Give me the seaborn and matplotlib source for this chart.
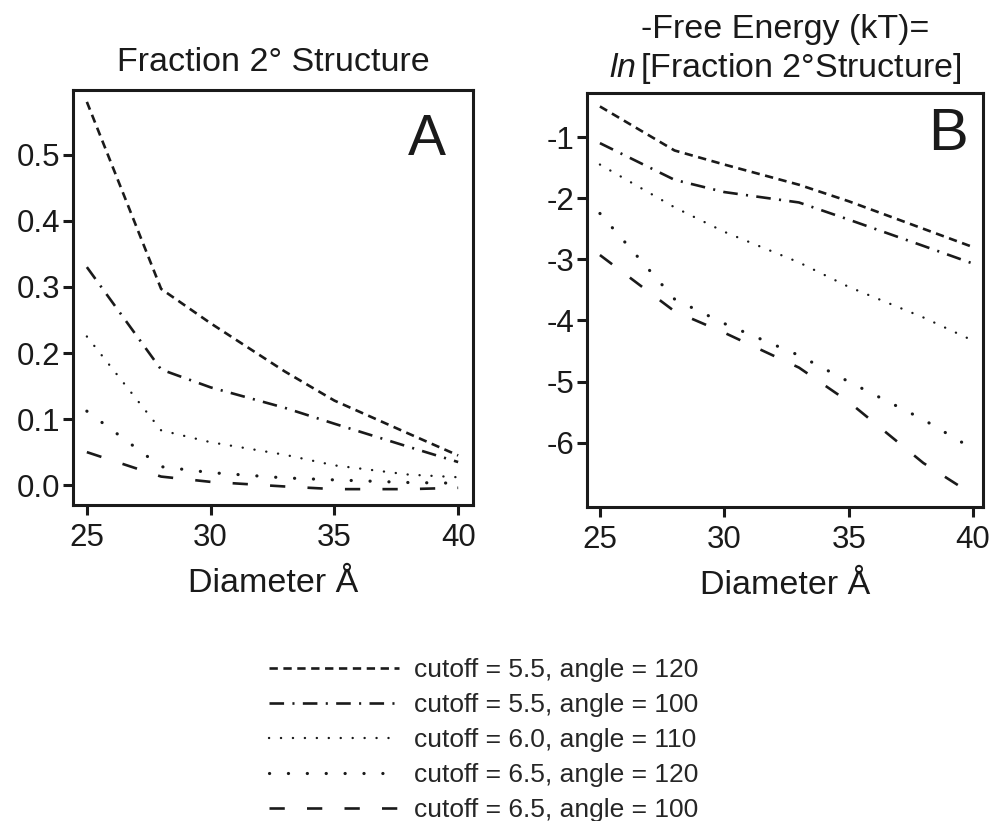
import matplotlib
matplotlib.use("Agg")
import matplotlib.pyplot as plt
import seaborn as sns
import pandas as pd

# ---- data ----
diameters = [25, 28, 30, 33, 35, 38, 40]
conditions = [
    "cutoff = 5.5, angle = 120",
    "cutoff = 5.5, angle = 100",
    "cutoff = 6.0, angle = 110",
    "cutoff = 6.5, angle = 120",
    "cutoff = 6.5, angle = 100",
]
frac_55_120 = [0.58, 0.297, 0.245, 0.172, 0.128, 0.078, 0.045]
frac_55_100 = [0.33, 0.175, 0.148, 0.117, 0.093, 0.058, 0.035]
frac_60_110 = [0.225, 0.083, 0.065, 0.046, 0.030, 0.016, 0.012]
frac_65_120 = [0.112, 0.028, 0.019, 0.011, 0.008, 0.004, 0.003]
frac_65_100 = [0.05, 0.013, 0.005, -0.002, -0.006, -0.006, -0.004]

ln_55_120 = [-0.50, -1.22, -1.45, -1.78, -2.05, -2.50, -2.80]
ln_55_100 = [-1.10, -1.70, -1.90, -2.07, -2.35, -2.78, -3.07]
ln_60_110 = [-1.45, -2.15, -2.55, -3.05, -3.45, -3.95, -4.33]
ln_65_120 = [-2.25, -3.65, -4.05, -4.57, -5.00, -5.62, -6.10]
ln_65_100 = [-2.93, -3.85, -4.20, -4.77, -5.33, -6.33, -6.85]

x_ticks = [25, 30, 35, 40]
yA_ticks = [0.0, 0.1, 0.2, 0.3, 0.4, 0.5]
yB_ticks = [-6, -5, -4, -3, -2, -1]

frac_series = [frac_55_120, frac_55_100, frac_60_110, frac_65_120, frac_65_100]
ln_series = [ln_55_120, ln_55_100, ln_60_110, ln_65_120, ln_65_100]

rows = []
for cond, fr, ln in zip(conditions, frac_series, ln_series):
    for d, f, l in zip(diameters, fr, ln):
        rows.append({"Diameter": d, "Condition": cond, "Fraction": f, "LnFraction": l})
df = pd.DataFrame(rows)

# ---- style ----
sns.set_style("ticks")
plt.rcParams["font.family"] = ["Liberation Sans", "DejaVu Sans"]
plt.rcParams["mathtext.fontset"] = "custom"
plt.rcParams["mathtext.rm"] = "Liberation Sans"
plt.rcParams["mathtext.it"] = "Liberation Sans:italic"
plt.rcParams["lines.scale_dashes"] = False
plt.rcParams["axes.linewidth"] = 2.2

ink = "#1a1a1a"
dash_map = {
    conditions[0]: (6, 4),
    conditions[1]: (10.5, 6, 1.5, 6),
    conditions[2]: (0.1, 8.5),
    conditions[3]: (0.1, 13.5),
    conditions[4]: (11, 16),
}
lw_map = {conditions[0]: 1.9, conditions[1]: 1.9, conditions[2]: 1.7,
          conditions[3]: 2.3, conditions[4]: 1.9}
cap_map = {conditions[0]: "butt", conditions[1]: "butt", conditions[2]: "round",
           conditions[3]: "round", conditions[4]: "butt"}

W, H = 993, 821
fig = plt.figure(figsize=(W / 100, H / 100), dpi=100)

def pos(l, r, t, b):
    return [l / W, 1 - b / H, (r - l) / W, (b - t) / H]

axA = fig.add_axes(pos(73, 473, 90, 505))
axB = fig.add_axes(pos(587, 983, 93, 507))

for ax, ycol in [(axA, "Fraction"), (axB, "LnFraction")]:
    sns.lineplot(data=df, x="Diameter", y=ycol, style="Condition",
                 style_order=conditions, dashes=dash_map, color=ink,
                 legend=False, ax=ax)
    for line, cond in zip(ax.lines, conditions):
        line.set_linewidth(lw_map[cond])
        line.set_dash_capstyle(cap_map[cond])
        line.set_color(ink)
    ax.set_xlabel("Diameter Å", fontsize=24.5, labelpad=11, color=ink)
    ax.set_ylabel("")
    ax.set_xticks(x_ticks)
    ax.tick_params(axis="both", direction="out", length=7, width=2.2,
                   labelsize=22.5, colors=ink)
    ax.tick_params(axis="x", pad=6)
    ax.tick_params(axis="y", pad=2)
    for sp in ax.spines.values():
        sp.set_visible(True)
        sp.set_color(ink)
        sp.set_linewidth(2.2)

axA.set_xlim(24.44, 40.6)
axA.set_ylim(-0.03, 0.598)
axA.set_yticks(yA_ticks)
axA.set_yticklabels(["0.0", "0.1", "0.2", "0.3", "0.4", "0.5"])
axA.set_title("Fraction 2° Structure", fontsize=24.5, pad=13.5, color=ink)
axA.text(0.885, 0.88, "A", transform=axA.transAxes, fontsize=41,
         ha="center", va="center", color=ink)

axB.set_xlim(24.48, 40.4)
axB.set_ylim(-7.05, -0.28)
axB.set_yticks(yB_ticks)
axB.set_yticklabels([str(v) for v in yB_ticks])
axB.text(0.5, 1.0 + 16 / 414, r"$\mathit{ln}\,$[Fraction 2°Structure]",
         transform=axB.transAxes, fontsize=24.5, ha="center", va="baseline",
         color=ink)
axB.text(0.5, 1.0 + 55 / 414, "-Free Energy (kT)=",
         transform=axB.transAxes, fontsize=24.5, ha="center", va="baseline",
         color=ink)
axB.text(0.912, 0.899, "B", transform=axB.transAxes, fontsize=43,
         ha="center", va="center", color=ink)

fig.legend(axA.lines, conditions, loc="center", bbox_to_anchor=(0.4875, 0.0985),
           frameon=False, fontsize=19, handlelength=4.9, handletextpad=0.6,
           labelspacing=0.42, borderpad=0.2)

fig.savefig("out.png", dpi=100)
